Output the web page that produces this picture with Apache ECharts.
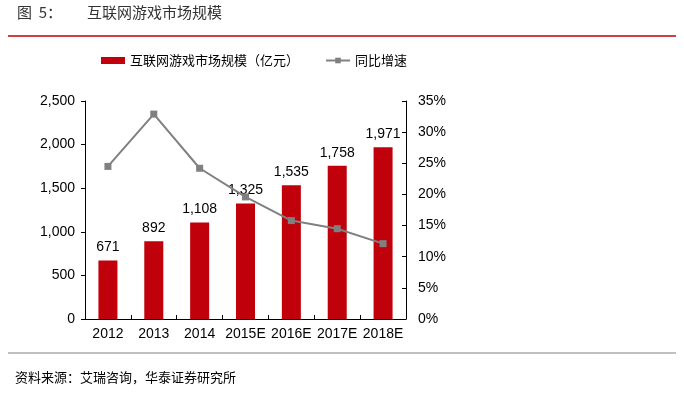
<!DOCTYPE html>
<html><head><meta charset="utf-8">
<script src="https://cdn.jsdelivr.net/npm/echarts@6/dist/echarts.min.js"></script>
<style>html,body{margin:0;padding:0;background:#fff}#c{width:684px;height:394px}</style>
</head><body><div id="c"></div>
<script>
const categories = ['2012','2013','2014','2015E','2016E','2017E','2018E'];
const marketSize = [671, 892, 1108, 1325, 1535, 1758, 1971];
const growthRate = [24.5, 32.9, 24.2, 19.6, 15.8, 14.5, 12.1];
const leftTicks = [0, 500, 1000, 1500, 2000, 2500];
const rightTicks = [0, 5, 10, 15, 20, 25, 30, 35];

const chart = echarts.init(document.getElementById('c'));
const F = 'Arial, "Liberation Sans", sans-serif';
const CJK = '"Noto Sans CJK SC", sans-serif';
chart.setOption({
  animation: false,
  grid: {left: 85, right: 278, top: 101, bottom: 75},
  legend: {
    left: 96, top: 49, itemWidth: 24, itemHeight: 7, itemGap: 26,
    textStyle: {fontFamily: CJK, fontSize: 13, color: '#000'},
    data: [{name: '互联网游戏市场规模（亿元）', icon: 'rect'}, {name: '同比增速'}]
  },
  xAxis: {
    type: 'category', data: categories,
    axisLine: {lineStyle: {color: '#000', width: 1}},
    axisTick: {show: true, inside: true, length: 4, alignWithLabel: false, lineStyle: {color: '#000'}},
    axisLabel: {interval: 0, fontFamily: F, fontSize: 14, color: '#000', margin: 8}
  },
  yAxis: [{
    type: 'value', min: 0, max: 2500, interval: 500,
    axisLine: {show: true, lineStyle: {color: '#000'}},
    axisTick: {show: true, length: 4, lineStyle: {color: '#000'}},
    splitLine: {show: false},
    axisLabel: {fontFamily: F, fontSize: 14, color: '#000', margin: 10,
      formatter: v => v.toLocaleString('en-US')}
  }, {
    type: 'value', min: 0, max: 35, interval: 5,
    axisLine: {show: true, lineStyle: {color: '#000'}},
    axisTick: {show: true, inside: true, length: 4, lineStyle: {color: '#000'}},
    splitLine: {show: false},
    axisLabel: {fontFamily: F, fontSize: 14, color: '#000', margin: 12, formatter: v => v + '%'}
  }],
  series: [{
    name: '互联网游戏市场规模（亿元）', type: 'bar', data: marketSize, barWidth: 19,
    itemStyle: {color: '#C0000B'},
    label: {show: true, position: 'top', distance: 6, fontFamily: F, fontSize: 14, color: '#000',
      formatter: p => p.value.toLocaleString('en-US')}
  }, {
    name: '同比增速', type: 'line', yAxisIndex: 1, data: growthRate,
    symbol: 'rect', symbolSize: 7,
    lineStyle: {color: '#808080', width: 2}, itemStyle: {color: '#808080'}
  }],
  graphic: [
    {type: 'text', left: 17, top: 5, style: {text: '图  5：', fontFamily: CJK, fontSize: 15, fill: '#333'}},
    {type: 'text', left: 87, top: 5, style: {text: '互联网游戏市场规模', fontFamily: CJK, fontSize: 15, fill: '#333'}},
    {type: 'line', shape: {x1: 8, y1: 36, x2: 676, y2: 36}, style: {stroke: '#C00000', lineWidth: 1.5}},
    {type: 'line', shape: {x1: 8, y1: 353, x2: 676, y2: 353}, style: {stroke: '#808080', lineWidth: 1}},
    {type: 'text', left: 15, top: 371, style: {text: '资料来源：艾瑞咨询，华泰证券研究所', fontFamily: CJK, fontSize: 13, fill: '#000'}}
  ]
});
</script></body></html>
